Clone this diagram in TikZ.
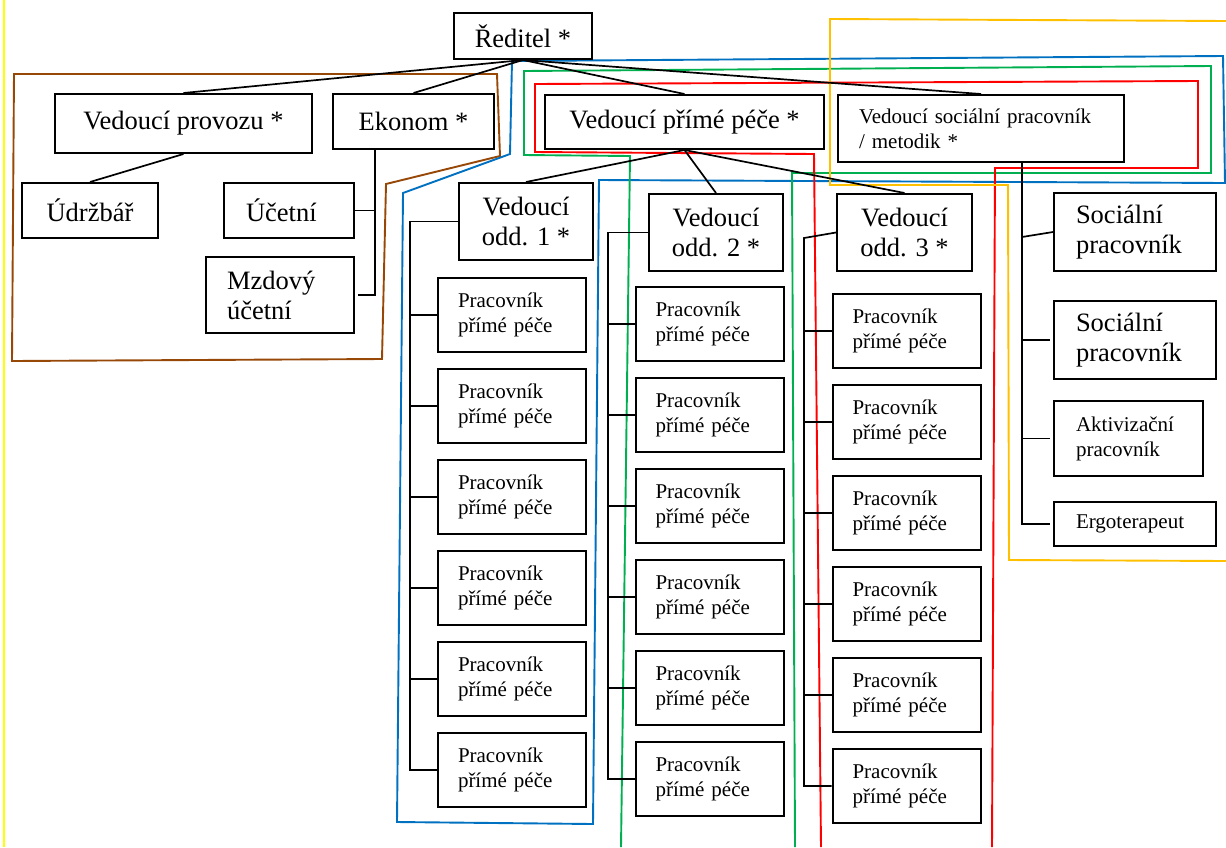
\documentclass[tikz,border=0pt]{standalone}
\usepackage{fontspec}
\setmainfont{Liberation Serif}
\usepackage{xcolor}
\usepackage{tikz}
\usetikzlibrary{positioning}

\definecolor{obrown}{RGB}{151,71,6}
\definecolor{oblue}{RGB}{0,112,192}
\definecolor{ogreen}{RGB}{0,176,80}
\definecolor{ored}{RGB}{255,0,0}
\definecolor{oorange}{RGB}{255,192,0}
\definecolor{oyellow}{RGB}{255,255,0}
\newcommand{\bigfnt}{\fontsize{26.5}{30}\selectfont}
\newcommand{\smallfnt}{\fontsize{21}{25}\selectfont}

\begin{document}
\begin{tikzpicture}[
          x=1pt, y=-1pt,
          node distance=15pt,
          every node/.style={inner sep=0pt},
          box/.style={draw, line width=2pt, font=\bigfnt, align=center},
          lbox/.style={draw, line width=2pt, font=\bigfnt, align=left},
          pbox/.style={draw, line width=2pt, font=\smallfnt, align=left, text width=108pt, minimum width=148pt, minimum height=74pt},
          link/.style={line width=1.7pt},
          group/.style={line width=1.9pt}
      ]
      \useasboundingbox (0,0) rectangle (1226,847);

      % Outlines
      \draw[group, oyellow] (4,0) -- (4,847);
      \draw[group, obrown] (14,74) -- (497,74) -- (500,156) -- (386,184) -- (382,359) -- (12,361) -- cycle;
      \draw[group, oblue] (512,61) -- (1223,56) -- (1225,183) -- (599,180) -- (593,824) -- (397,822) -- (403,193) -- (510,154) -- cycle;
      \draw[group, ogreen] (621,847) -- (630,156) -- (524,155) -- (524,71) -- (1211,66) -- (1211,173) -- (792,173) -- (795,847);
      \draw[group, ored] (821,847) -- (814,154) -- (535,152) -- (535,84) -- (1198,81) -- (1198,168) -- (995,168) -- (992,847);
      \draw[group, oorange] (1226,21) -- (830,19) -- (830,185) -- (1008,185) -- (1009,560) -- (1226,561);

      % Nodes
      \node[box, minimum width=138pt, minimum height=46pt] (dir) at (523,36) {Ředitel *};
      \node[box, minimum width=257pt, minimum height=59pt] (provoz) at (183.5,123.5) {Vedoucí provozu *};
      \node[box, minimum width=161pt, minimum height=55pt] (ekonom) at (413.5,121.5) {Ekonom *};
      \node[box, minimum width=279pt, minimum height=54pt] (vpp) at (684.5,122) {Vedoucí přímé péče *};
      \node[lbox, font=\smallfnt, text width=244pt, minimum width=286pt, minimum height=67pt] (vsp) at (981,128.5) {Vedoucí sociální pracovník\\/ metodik *};
      \node[box, minimum width=136pt, minimum height=55pt] (udrzbar) at (90,210.5) {Údržbář};
      \node[lbox, text width=86pt, minimum width=130pt, minimum height=55pt] (ucetni) at (289,210.5) {Účetní};
      \node[lbox, text width=106pt, minimum width=148pt, minimum height=76pt] (mzdova) at (280,295) {Mzdový\\účetní};
      \node[box, minimum width=134pt, minimum height=77pt] (odd1) at (526,221.5) {Vedoucí\\odd. 1 *};
      \node[box, minimum width=134pt, minimum height=77pt] (odd2) at (716,232.5) {Vedoucí\\odd. 2 *};
      \node[box, minimum width=135pt, minimum height=77pt] (odd3) at (904.5,232.5) {Vedoucí\\odd. 3 *};

      \node[pbox] (p11) at (512,315) {Pracovník\\přímé péče};
      \node[pbox, below=of p11] (p12) {Pracovník\\přímé péče};
      \node[pbox, below=of p12] (p13) {Pracovník\\přímé péče};
      \node[pbox, below=of p13] (p14) {Pracovník\\přímé péče};
      \node[pbox, below=of p14] (p15) {Pracovník\\přímé péče};
      \node[pbox, below=of p15] (p16) {Pracovník\\přímé péče};

      \node[pbox] (p21) at (709.5,324) {Pracovník\\přímé péče};
      \node[pbox, below=of p21] (p22) {Pracovník\\přímé péče};
      \node[pbox, below=of p22] (p23) {Pracovník\\přímé péče};
      \node[pbox, below=of p23] (p24) {Pracovník\\přímé péče};
      \node[pbox, below=of p24] (p25) {Pracovník\\přímé péče};
      \node[pbox, below=of p25] (p26) {Pracovník\\přímé péče};

      \node[pbox] (p31) at (906.5,331) {Pracovník\\přímé péče};
      \node[pbox, below=of p31] (p32) {Pracovník\\přímé péče};
      \node[pbox, below=of p32] (p33) {Pracovník\\přímé péče};
      \node[pbox, below=of p33] (p34) {Pracovník\\přímé péče};
      \node[pbox, below=of p34] (p35) {Pracovník\\přímé péče};
      \node[pbox, below=of p35] (p36) {Pracovník\\přímé péče};

      \node[lbox, text width=118pt, minimum width=162pt, minimum height=78pt] (soc1) at (1135,232) {Sociální\\pracovník};
      \node[lbox, text width=118pt, minimum width=162pt, minimum height=78pt] (soc2) at (1135,340) {Sociální\\pracovník};
      \node[lbox, font=\smallfnt, text width=105pt, minimum width=149pt, minimum height=75pt] (aktiv) at (1128.5,438.5) {Aktivizační\\pracovník};
      \node[lbox, font=\smallfnt, text width=118pt, minimum width=162pt, minimum height=44pt] (ergo) at (1135,524) {Ergoterapeut};

      % Lines
      \draw[link] (dir.south) -- (provoz.north);
      \draw[link] (dir.south) -- (ekonom.north);
      \draw[link] (dir.south) -- (vpp.north);
      \draw[link] (dir.south) -- (vsp.north);
      \draw[link] (provoz.south) -- (udrzbar.north);

      \coordinate (ekbus) at (375,149);
      \draw[link] (ekbus |- ekonom.south) -- (ekbus |- mzdova.east) -- ([xshift=3pt]mzdova.east);
      \draw[link] (ekbus |- ucetni.east) -- (ucetni.east);

      \draw[link] (vpp.south) -- (odd1.north);
      \draw[link] (vpp.south) -- (odd2.north);
      \draw[link] (vpp.south) -- (odd3.north);

      \coordinate (bus1) at (410,222);
      \draw[link] (odd1.west) -- (bus1 |- odd1.west) -- (bus1 |- p16.west) -- (p16.west);
      \draw[link] (bus1 |- p11.west) -- (p11.west) (bus1 |- p12.west) -- (p12.west)
                  (bus1 |- p13.west) -- (p13.west) (bus1 |- p14.west) -- (p14.west)
                  (bus1 |- p15.west) -- (p15.west);

      \coordinate (bus2) at (608,232);
      \draw[link] (odd2.west) -- (bus2 |- odd2.west) -- (bus2 |- p26.west) -- (p26.west);
      \draw[link] (bus2 |- p21.west) -- (p21.west) (bus2 |- p22.west) -- (p22.west)
                  (bus2 |- p23.west) -- (p23.west) (bus2 |- p24.west) -- (p24.west)
                  (bus2 |- p25.west) -- (p25.west);

      \coordinate (bus3) at (804,238);
      \draw[link] (odd3.west) -- (bus3) -- (bus3 |- p36.west) -- (p36.west);
      \draw[link] (bus3 |- p31.west) -- (p31.west) (bus3 |- p32.west) -- (p32.west)
                  (bus3 |- p33.west) -- (p33.west) (bus3 |- p34.west) -- (p34.west)
                  (bus3 |- p35.west) -- (p35.west);

      \coordinate (vspbus) at (1022,162);
      \draw[link] (vspbus |- vsp.south) -- (vspbus |- ergo.west) -- ([xshift=-3pt]ergo.west);
      \draw[link] ([yshift=-5pt]vspbus |- soc1.west) -- (soc1.west);
      \draw[link] (vspbus |- soc2.west) -- ([xshift=-3pt]soc2.west);
      \draw[link] (vspbus |- aktiv.west) -- ([xshift=-3pt]aktiv.west);

  \end{tikzpicture}
\end{document}
